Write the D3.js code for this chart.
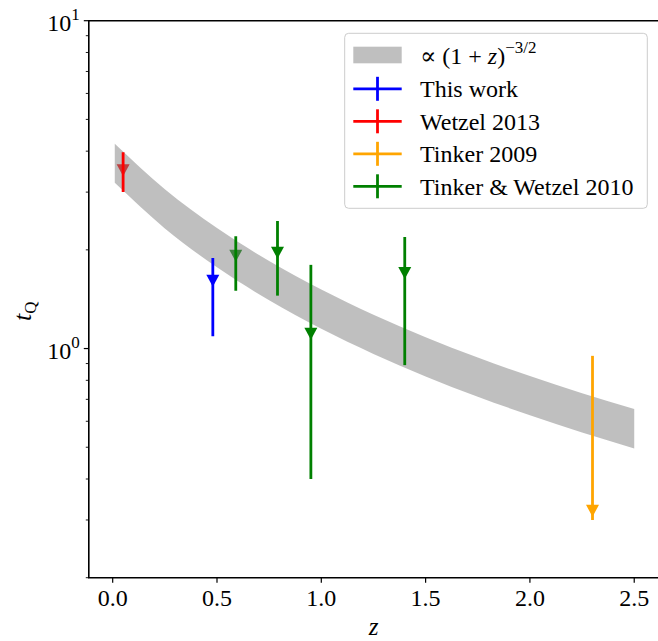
<!DOCTYPE html>
<html><head><meta charset="utf-8">
<script src="https://cdn.jsdelivr.net/npm/d3@7"></script>
<style>body{margin:0;background:#fff}svg{display:block}</style>
</head><body>
<svg id="chart" width="658" height="641"></svg>
<script>
// ---------------- data ----------------
const seriesNames  = ["This work", "Wetzel 2013", "Tinker 2009", "Tinker & Wetzel 2010"];
const seriesColors = ["#0000ff", "#ff0000", "#ffa500", "#008000"];
const pointSeries  = [0, 1, 2, 3, 3, 3, 3];
const pointZ       = [0.48, 0.05, 2.30, 0.59, 0.79, 0.95, 1.40];
const pointT       = [1.61, 3.50, 0.32, 1.92, 1.96, 1.11, 1.70];
const errMinus     = [0.52, 0.50, 0.02, 0.42, 0.51, 0.71, 0.81];
const errPlus      = [0.28, 0.47, 0.63, 0.28, 0.49, 0.69, 0.49];

const bandZ    = [0.01, 0.25, 0.5, 0.75, 1.0, 1.25, 1.5, 1.75, 2.0, 2.25, 2.5];
const bandHigh = [4.217, 3.062, 2.330, 1.849, 1.513, 1.268, 1.083, 0.939, 0.824, 0.731, 0.654];
const bandLow  = [3.202, 2.325, 1.769, 1.404, 1.149, 0.963, 0.822, 0.713, 0.626, 0.555, 0.496];

const xTicks      = [0, 0.5, 1.0, 1.5, 2.0, 2.5];
const xTickLabels = ["0.0", "0.5", "1.0", "1.5", "2.0", "2.5"];
const yMajorTicks = [1, 10];
const yMajorExp   = ["0", "1"];
const yMinorTicks = [0.2, 0.3, 0.4, 0.5, 0.6, 0.7, 0.8, 0.9, 2, 3, 4, 5, 6, 7, 8, 9];

// ---------------- layout ----------------
const L = 88.8, R = 660.2, T = 20.7, B = 577.7;
const FONT = "'Liberation Serif', 'DejaVu Serif', serif";
const FS = 24;
const FSS = 17;

const svg = d3.select("#chart");
const x = d3.scaleLinear().domain([-0.1145, 2.6245]).range([L, R]);
const y = d3.scaleLog().domain([0.2, 10]).range([B, T]);

svg.append("defs").append("clipPath").attr("id", "clip")
  .append("rect").attr("x", L).attr("y", T).attr("width", R - L).attr("height", B - T);

const plot = svg.append("g").attr("clip-path", "url(#clip)");

const pts = pointZ.map((z, i) => ({z, t: pointT[i], lo: pointT[i] - errMinus[i], hi: pointT[i] + errPlus[i], c: seriesColors[pointSeries[i]]}));

// markers (down triangles)
const tri = (w, h) => `M0,${h/2}L${-w/2},${-h/2}L${w/2},${-h/2}Z`;
plot.selectAll("path.mk").data(pts).enter().append("path")
  .attr("class", "mk")
  .attr("d", tri(13, 12))
  .attr("transform", d => `translate(${x(d.z)},${y(d.t)})`)
  .attr("fill", d => d.c);

// band
const bandData = bandZ.map((z, i) => ({z, lo: bandLow[i], hi: bandHigh[i]}));
plot.append("path").datum(bandData)
  .attr("d", d3.area().x(d => x(d.z)).y0(d => y(d.lo)).y1(d => y(d.hi)).curve(d3.curveMonotoneX))
  .attr("fill", "#808080").attr("fill-opacity", 0.5);

// error bars
plot.selectAll("line.eb").data(pts).enter().append("line")
  .attr("class", "eb")
  .attr("x1", d => x(d.z)).attr("x2", d => x(d.z))
  .attr("y1", d => y(d.lo)).attr("y2", d => y(d.hi))
  .attr("stroke", d => d.c).attr("stroke-width", 2.8);

// spines
const ax = svg.append("g").attr("stroke", "#000").attr("fill", "none");
ax.append("path").attr("d", `M${L},${T}H${R}V${B}H${L}Z`).attr("stroke-width", 1.6);

// x ticks
xTicks.forEach((v, i) => {
  svg.append("line").attr("x1", x(v)).attr("x2", x(v)).attr("y1", B).attr("y2", B + 5)
    .attr("stroke", "#000").attr("stroke-width", 1.2);
  svg.append("text").attr("x", x(v)).attr("y", B + 28).attr("text-anchor", "middle")
    .attr("font-family", FONT).attr("font-size", FS).text(xTickLabels[i]);
});
// y ticks
yMajorTicks.forEach((v, i) => {
  svg.append("line").attr("x1", L - 5).attr("x2", L).attr("y1", y(v)).attr("y2", y(v))
    .attr("stroke", "#000").attr("stroke-width", 1.2);
  const t = svg.append("text").attr("x", L - 9).attr("y", y(v) + 10).attr("text-anchor", "end")
    .attr("font-family", FONT).attr("font-size", FS);
  t.append("tspan").text("10");
  t.append("tspan").attr("dy", -11).attr("font-size", FSS).text(yMajorExp[i]);
});
yMinorTicks.forEach(v => {
  svg.append("line").attr("x1", L - 3).attr("x2", L).attr("y1", y(v)).attr("y2", y(v))
    .attr("stroke", "#000").attr("stroke-width", 0.9);
});

// axis labels
svg.append("text").attr("x", (L + R) / 2 - 1).attr("y", 635).attr("text-anchor", "middle")
  .attr("font-family", FONT).attr("font-size", FS + 1).attr("font-style", "italic").text("z");
const yl = svg.append("text").attr("transform", `translate(31,${(T + B) / 2 + 12}) rotate(-90)`)
  .attr("text-anchor", "middle").attr("font-family", FONT).attr("font-size", FS + 2);
yl.append("tspan").attr("font-style", "italic").text("t");
yl.append("tspan").attr("dy", 5).attr("font-size", FSS).text("Q");

// legend
const lg = svg.append("g");
lg.append("rect").attr("x", 344.7).attr("y", 33.3).attr("width", 302.6).attr("height", 175).attr("rx", 4)
  .attr("fill", "#fff").attr("fill-opacity", 0.8).attr("stroke", "#cccccc").attr("stroke-width", 1);
const rowY = [55, 88.8, 121.3, 153.8, 186.3];
const hx0 = 353.3, hx1 = 401.7, tx = 420;
lg.append("rect").attr("x", hx0).attr("y", rowY[0] - 8.3).attr("width", hx1 - hx0).attr("height", 16.6)
  .attr("fill", "#808080").attr("fill-opacity", 0.5);
const t0 = lg.append("text").attr("x", tx).attr("y", rowY[0] + 8.5).attr("font-family", FONT).attr("font-size", FS);
t0.append("tspan").text("\u221D (1 + ");
t0.append("tspan").attr("font-style", "italic").text("z");
t0.append("tspan").text(")");
t0.append("tspan").attr("dy", -11).attr("font-size", FSS).text("\u22123/2");
seriesNames.forEach((name, i) => {
  const cy = rowY[i + 1], col = seriesColors[i];
  lg.append("line").attr("x1", hx0).attr("x2", hx1).attr("y1", cy).attr("y2", cy)
    .attr("stroke", col).attr("stroke-width", 2.8);
  lg.append("line").attr("x1", (hx0 + hx1) / 2).attr("x2", (hx0 + hx1) / 2).attr("y1", cy - 12).attr("y2", cy + 12)
    .attr("stroke", col).attr("stroke-width", 2.8);
  lg.append("text").attr("x", tx).attr("y", cy + 8.5).attr("font-family", FONT).attr("font-size", FS).text(name);
});
</script>
</body></html>
